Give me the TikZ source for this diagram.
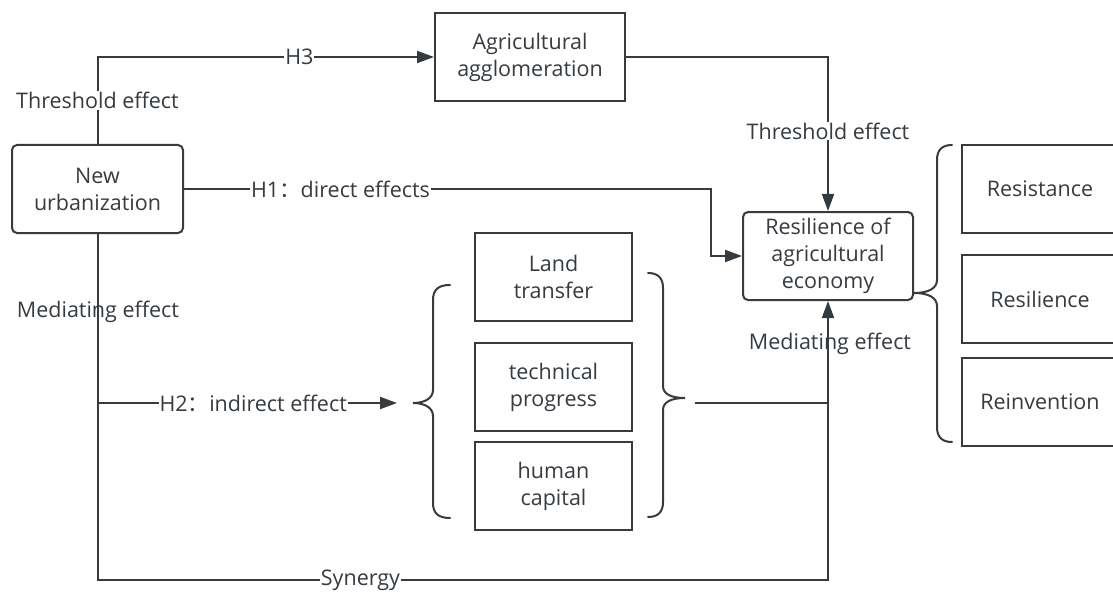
\documentclass[tikz,border=0pt]{standalone}
\usepackage{fontspec}
\setmainfont{Open Sans}
\newfontfamily\cjk{Noto Sans CJK SC}
\usetikzlibrary{arrows.meta}
\definecolor{ink}{HTML}{363B40}
\tikzset{
  txt/.style={text=ink,font=\fontsize{21.5}{27}\selectfont},
  box/.style={txt,draw=ink,line width=2pt,align=center,inner sep=0pt},
  rbox/.style={box,rounded corners=5pt},
  lbl/.style={txt,fill=white,inner sep=1pt},
  plbl/.style={txt,inner sep=1pt},
  conn/.style={draw=ink,line width=2pt},
  arr/.style={conn,-{Triangle[length=17pt,width=12pt]}},
  brc/.style={draw=ink,line width=2pt,line cap=round},
}
\begin{document}
\begin{tikzpicture}[x=1pt,y=-1pt]
\useasboundingbox (0,0) rectangle (1113,596);
% nodes
\node[rbox,minimum width=171pt,minimum height=88pt] (nu) at (97.5,189) {New\\urbanization};
\node[box,minimum width=190pt,minimum height=88pt] (agg) at (530,57) {Agricultural\\agglomeration};
\node[rbox,minimum width=170pt,minimum height=88pt] (res) at (828,256) {Resilience of\\agricultural\\economy};
\node[box,minimum width=157pt,minimum height=88pt] (land) at (553.5,277) {Land\\transfer};
\node[box,minimum width=157pt,minimum height=88pt] (tech) at (553.5,387) {technical\\progress};
\node[box,minimum width=157pt,minimum height=88pt] (hum) at (553.5,486) {human\\capital};
\node[box,minimum width=156pt,minimum height=88pt] (r1) at (1040,189) {Resistance};
\node[box,minimum width=156pt,minimum height=88pt] (r2) at (1040,299) {Resilience};
\node[box,minimum width=156pt,minimum height=88pt] (r3) at (1040,401.5) {Reinvention};
% coordinates
\coordinate (h1c) at (711,189);
\coordinate (c1) at (97.5,580);
\coordinate (h2s) at (97.5,403);
\coordinate (h2e) at (397,403);
\coordinate (rb) at (695,403);
\coordinate (jn) at (828,403);
% connectors
\draw[arr] (nu.north) |- node[lbl,pos=0.25]{Threshold effect} node[lbl,pos=0.8]{H3} (agg.west);
\draw[arr] (agg.east) -| node[lbl,pos=0.74]{Threshold effect} (res.north);
\draw[arr] (nu.east) -- node[lbl,pos=0.297]{H1{\cjk ：}direct effects} (h1c) |- (res.west);
\draw[arr] (nu.south) -- (c1) -| node[lbl,pos=0.18]{Synergy} (res.south);
\draw[arr] (h2s) -- node[lbl,pos=0.52]{H2{\cjk ：}indirect effect} (h2e);
\draw[conn] (rb) -- (jn);
\node[plbl] (m1) at (98,312) {Mediating effect};
\node[plbl] (m2) at (830,344) {Mediating effect};
% braces
\draw[brc] (450,285) .. controls (438,285) and (433,290) .. (433,300) -- (433,390)
  .. controls (433,398) and (425,403) .. (413,403)
  .. controls (425,403) and (433,408) .. (433,416) -- (433,503)
  .. controls (433,513) and (438,518) .. (450,518);
\draw[brc] (648,273) .. controls (658,273) and (663,278) .. (663,288) -- (663,386)
  .. controls (663,394) and (671,398) .. (685,398)
  .. controls (671,398) and (663,402) .. (663,410) -- (663,502)
  .. controls (663,512) and (658,517) .. (648,517);
\draw[brc] (952,145) .. controls (942,145) and (937,150) .. (937,160) -- (937,280)
  .. controls (937,288) and (929,293) .. (914,293)
  .. controls (929,293) and (937,298) .. (937,306) -- (937,427)
  .. controls (937,437) and (942,442) .. (952,442);
\end{tikzpicture}
\end{document}
